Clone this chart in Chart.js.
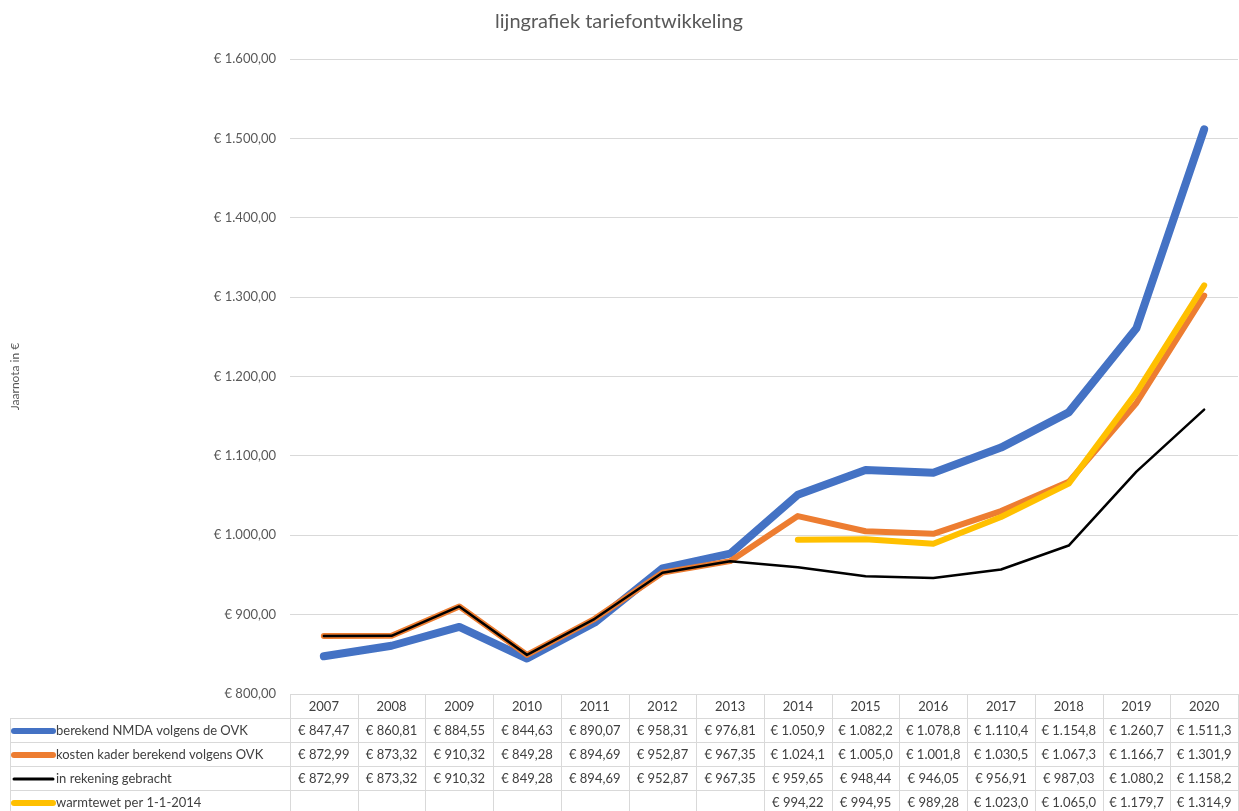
<!DOCTYPE html>
<html>
<head>
<meta charset="utf-8">
<script src="https://cdn.jsdelivr.net/npm/chart.js@4.4.0/dist/chart.umd.min.js"></script>
<style>
  html, body { margin: 0; padding: 0; background: #fff; }
  #wrap { width: 1239px; height: 811px; }
</style>
</head>
<body>
<div id="wrap"><canvas id="canvas1" width="1239" height="811"></canvas></div>
<script>
// years along the x axis (also the table header)
var years = ['2007', '2008', '2009', '2010', '2011', '2012', '2013', '2014', '2015', '2016', '2017', '2018', '2019', '2020'];

// series values
var nmda = [847.47, 860.81, 884.55, 844.63, 890.07, 958.31, 976.81, 1050.9, 1082.2, 1078.8, 1110.4, 1154.8, 1260.7, 1511.3];
var kader = [872.99, 873.32, 910.32, 849.28, 894.69, 952.87, 967.35, 1024.1, 1005.0, 1001.8, 1030.5, 1067.3, 1166.7, 1301.9];
var gebracht = [872.99, 873.32, 910.32, 849.28, 894.69, 952.87, 967.35, 959.65, 948.44, 946.05, 956.91, 987.03, 1080.2, 1158.2];
var warmtewet = [null, null, null, null, null, null, null, 994.22, 994.95, 989.28, 1023.0, 1065.0, 1179.7, 1314.9];

var seriesNames = ['berekend NMDA volgens de OVK', 'kosten kader berekend volgens OVK', 'in rekening gebracht', 'warmtewet per 1-1-2014'];
var seriesColors = ['#4472C4', '#ED7D31', '#000000', '#FFC000'];

var yMin = 800, yMax = 1600, yStep = 100;

function euro(v, dec) {
  if (v === null || v === undefined) return '';
  var parts = v.toFixed(dec).split('.');
  var whole = parts[0].replace(/\B(?=(\d{3})+(?!\d))/g, '.');
  return '€ ' + whole + ',' + parts[1];
}

// excel cuts the wide numbers off, so the table shows only one decimal above 1000
function cellText(v) {
  if (v === null) return '';
  return euro(v, v >= 1000 ? 1 : 2);
}

const FONT = 'Lato, "Open Sans", sans-serif';

// draws the data table with the legend keys under the plot
const dataTable = {
  id: 'dataTable',
  afterDraw(chart) {
    const ctx = chart.ctx;
    const area = chart.chartArea;
    const x = chart.scales.x;
    const colW = (area.right - area.left) / years.length;
    const rowH = 24;
    const top = Math.round(area.bottom);
    const leftEdge = 10;
    const rows = [nmda, kader, gebracht, warmtewet];
    const widths = [6, 6, 3, 6];

    ctx.save();
    ctx.strokeStyle = '#d9d9d9';
    ctx.lineWidth = 1;

    // header row (years)
    ctx.beginPath();
    ctx.moveTo(area.left, top + 0.5);
    ctx.lineTo(area.right, top + 0.5);
    for (let i = 0; i <= years.length; i++) {
      const xp = Math.round(x.getPixelForValue(Math.min(i, years.length - 1)) + (i === years.length ? colW / 2 : -colW / 2)) + 0.5;
      ctx.moveTo(xp, top);
      ctx.lineTo(xp, top + rowH * 5);
    }
    for (let r = 1; r <= 5; r++) {
      const yp = top + rowH * r + 0.5;
      ctx.moveTo(leftEdge, yp);
      ctx.lineTo(area.right, yp);
    }
    ctx.moveTo(leftEdge + 0.5, top + rowH);
    ctx.lineTo(leftEdge + 0.5, top + rowH * 5);
    ctx.stroke();

    ctx.font = '13px ' + FONT;
    ctx.fillStyle = '#404040';
    ctx.textAlign = 'center';
    ctx.textBaseline = 'middle';
    years.forEach(function (yr, i) {
      ctx.fillText(yr, x.getPixelForValue(i), top + rowH / 2 + 1);
    });

    rows.forEach(function (vals, r) {
      const cy = top + rowH * (r + 1) + rowH / 2 + 1;
      // legend key
      ctx.strokeStyle = seriesColors[r];
      ctx.lineWidth = widths[r];
      ctx.lineCap = 'round';
      ctx.beginPath();
      ctx.moveTo(14, cy);
      ctx.lineTo(53, cy);
      ctx.stroke();
      ctx.fillStyle = '#404040';
      ctx.textAlign = 'left';
      ctx.fillText(seriesNames[r], 56, cy);
      ctx.textAlign = 'center';
      vals.forEach(function (v, i) {
        ctx.fillText(cellText(v), x.getPixelForValue(i), cy);
      });
    });
    ctx.restore();
  }
};

function makeSet(label, values, color, width, order) {
  return {
    label: label,
    data: values,
    borderColor: color,
    backgroundColor: color,
    borderWidth: width,
    pointRadius: 0,
    pointHoverRadius: 0,
    tension: 0,
    borderCapStyle: 'round',
    borderJoinStyle: 'round',
    spanGaps: false,
    order: order
  };
}

const config = {
  type: 'line',
  data: {
    labels: years,
    datasets: [
      makeSet(seriesNames[0], nmda, seriesColors[0], 8, 4),
      makeSet(seriesNames[1], kader, seriesColors[1], 6, 3),
      makeSet(seriesNames[2], gebracht, seriesColors[2], 2.5, 1),
      makeSet(seriesNames[3], warmtewet, seriesColors[3], 6, 2)
    ]
  },
  options: {
    responsive: false,
    animation: false,
    devicePixelRatio: 1,
    layout: { padding: { top: 10, right: 1, bottom: 117, left: 0 } },
    plugins: {
      legend: { display: false },
      tooltip: { enabled: false },
      title: {
        display: true,
        text: 'lijngrafiek tariefontwikkeling',
        color: '#595959',
        font: { family: FONT, size: 20, weight: 'normal' },
        padding: { top: 0, bottom: 25 }
      }
    },
    scales: {
      x: {
        type: 'category',
        offset: true,
        display: false
      },
      y: {
        min: yMin,
        max: yMax,
        afterFit: function (scale) { scale.width = 290; },
        border: { display: false },
        grid: { color: '#d9d9d9', lineWidth: 1, drawTicks: false },
        ticks: {
          stepSize: yStep,
          padding: 14,
          color: '#595959',
          font: { family: FONT, size: 13 },
          callback: function (v) { return euro(v, 2); }
        },
        title: {
          display: true,
          text: 'Jaarnota in €',
          color: '#595959',
          font: { family: FONT, size: 12 },
          padding: { top: 8, bottom: 0 }
        }
      }
    }
  },
  plugins: [dataTable]
};

var chartInstance = new Chart(document.getElementById('canvas1'), config);
</script>
</body>
</html>
